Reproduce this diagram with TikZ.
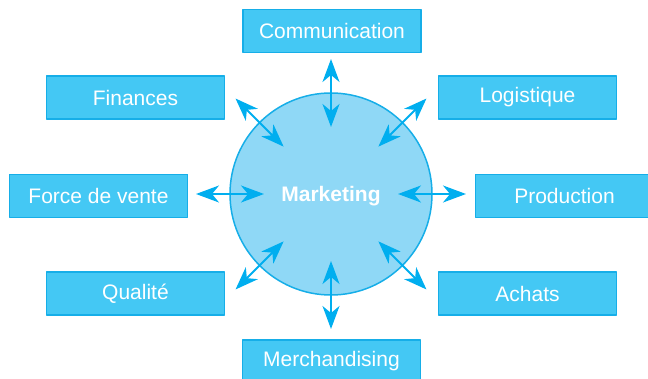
\documentclass[tikz,border=0pt]{standalone}
\usepackage{fontspec}
\setmainfont{Liberation Sans}
\usetikzlibrary{arrows.meta}
\definecolor{boxfill}{HTML}{44C8F4}
\definecolor{boxline}{HTML}{16AEE8}
\definecolor{ballfill}{HTML}{8FD8F6}
\definecolor{arrowcol}{HTML}{00AEEF}
\begin{document}
\begin{tikzpicture}[x=1pt,y=-1pt,line join=round,font=\fontsize{21}{25}\selectfont,
		pole/.style={draw=boxline,fill=boxfill,line width=1.5pt,text=white,minimum width=178pt,minimum height=43pt,inner sep=0pt},
		link/.style={arrowcol,line width=1.8pt,{Stealth[length=23pt,width=17pt,inset=7pt]}-{Stealth[length=23pt,width=17pt,inset=7pt]}}]
	\useasboundingbox (0,0) rectangle (648,379);
	
	\node[circle,draw=boxline,fill=ballfill,line width=1.5pt,minimum size=202pt,inner sep=0pt] (mkt) at (331,194) {};
	\node[text=white,font=\fontsize{21}{25}\selectfont\bfseries] (mktlabel) at (331,196) {Marketing};
	
	\node[pole] (com) at (332,31) {Communication};
	\node[pole] (fin) at (135.5,97.5) {Finances};
	\node[pole] (log) at (527.5,97.5) {Logistique};
	\node[pole] (fdv) at (98.5,196) {Force de vente};
	\node[pole] (prod) at (564.5,196) {Production};
	\node[pole] (qual) at (135.5,293.5) {Qualité};
	\node[pole] (ach) at (527.5,293.5) {Achats};
	\node[pole] (merch) at (331.5,361.5) {Merchandising};
	
	\foreach \a in {0,45,...,315}{
		\coordinate (in\a) at ([shift={(-\a:67)}]mkt.center);
		\coordinate (out\a) at ([shift={(-\a:135)}]mkt.center);
		\draw[link] (in\a) -- (out\a);
	}
\end{tikzpicture}
\end{document}
